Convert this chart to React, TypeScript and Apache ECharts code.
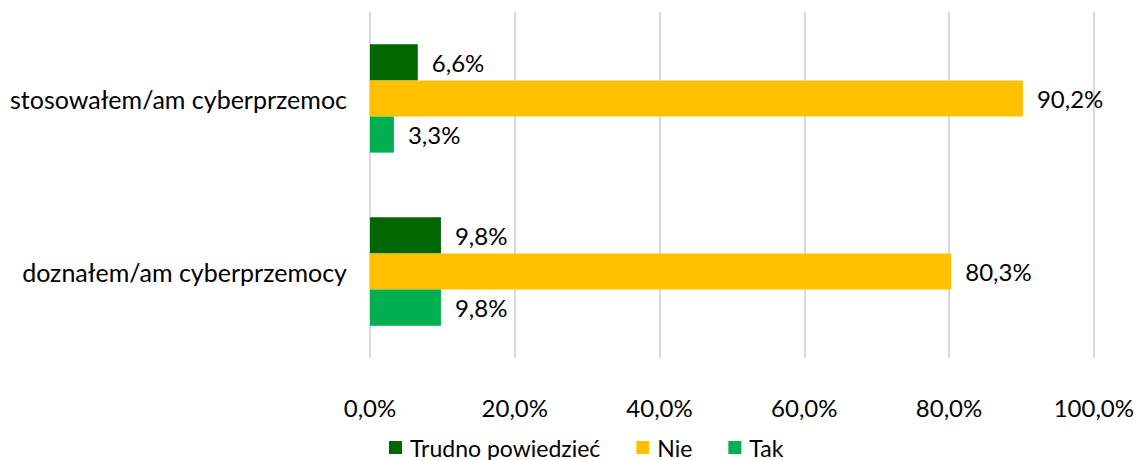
import React, { useEffect, useRef } from "react";
import * as echarts from "echarts";

const categories = ["doznałem/am cyberprzemocy", "stosowałem/am cyberprzemoc"];
const seriesNames = ["Trudno powiedzieć", "Nie", "Tak"];
const trudnoValues = [9.8, 6.6];
const nieValues = [80.3, 90.2];
const takValues = [9.8, 3.3];
const xTicks = [0, 20, 40, 60, 80, 100];

const colors = ["#006600", "#FFC000", "#00B050"];
const FONT = "Lato, 'Open Sans', sans-serif";

const fmt = (v: number) => v.toFixed(1).replace(".", ",") + "%";

export default function App() {
  const ref = useRef<HTMLDivElement>(null);
  useEffect(() => {
    if (!ref.current) return;
    const chart = echarts.init(ref.current, undefined, { renderer: "svg" });
    const values = [trudnoValues, nieValues, takValues];
    chart.setOption({
      animation: false,
      textStyle: { fontFamily: FONT },
      grid: { left: 370, right: 43, top: 12, bottom: 102, containLabel: false },
      legend: {
        bottom: -4,
        left: 384,
        itemWidth: 13,
        itemHeight: 13,
        itemGap: 36,
        icon: "rect",
        textStyle: { fontSize: 23, color: "#000", fontFamily: FONT, padding: [0, 0, 0, 3] },
        data: seriesNames,
      },
      xAxis: {
        type: "value",
        min: xTicks[0],
        max: xTicks[xTicks.length - 1],
        interval: 20,
        axisLine: { show: false },
        axisTick: { show: false },
        splitLine: { show: true, lineStyle: { color: "#D9D9D9", width: 2 } },
        axisLabel: {
          formatter: (v: number) => fmt(v),
          fontSize: 24,
          color: "#000",
          margin: 37,
          fontFamily: FONT,
        },
      },
      yAxis: {
        type: "category",
        data: categories,
        axisLine: { show: false },
        axisTick: { show: false },
        axisLabel: {
          fontSize: 25,
          color: "#000",
          margin: 23,
          fontFamily: FONT,
        },
      },
      series: seriesNames.map((name, i) => ({
        name,
        type: "bar",
        data: values[i],
        barGap: "0%",
        barCategoryGap: "37.4%",
        itemStyle: { color: colors[i] },
        label: {
          show: true,
          position: "right",
          distance: 14,
          fontSize: 24,
          color: "#000",
          fontFamily: FONT,
          formatter: (p: any) => fmt(p.value),
        },
      })),
    });
    return () => chart.dispose();
  }, []);
  return <div ref={ref} style={{ width: 1137, height: 460, position: "absolute", left: 0, top: 0 }} />;
}
